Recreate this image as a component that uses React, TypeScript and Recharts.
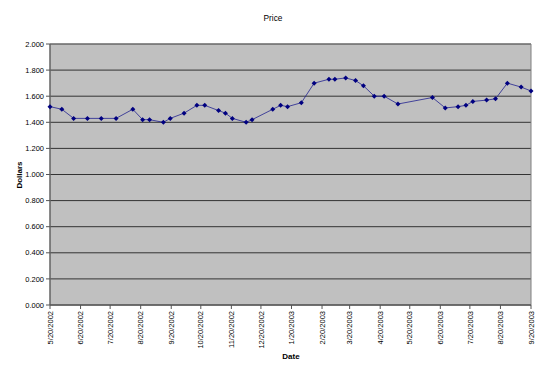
import { CartesianGrid, Line, LineChart, ReferenceArea, XAxis, YAxis } from "recharts";

const dates = [
  "2002-05-20", "2002-06-01", "2002-06-13", "2002-06-27", "2002-07-11", "2002-07-26",
  "2002-08-12", "2002-08-22", "2002-08-29", "2002-09-12", "2002-09-19", "2002-10-03",
  "2002-10-16", "2002-10-24", "2002-11-07", "2002-11-14", "2002-11-21", "2002-12-05",
  "2002-12-11", "2003-01-01", "2003-01-09", "2003-01-16", "2003-01-30", "2003-02-12",
  "2003-02-27", "2003-03-05", "2003-03-16", "2003-03-26", "2003-04-03", "2003-04-14",
  "2003-04-24", "2003-05-08", "2003-06-12", "2003-06-25", "2003-07-08", "2003-07-16",
  "2003-07-23", "2003-08-06", "2003-08-15", "2003-08-27", "2003-09-10", "2003-09-20",
];
const prices = [
  1.52, 1.5, 1.43, 1.43, 1.43, 1.43,
  1.5, 1.42, 1.42, 1.4, 1.43, 1.47,
  1.53, 1.53, 1.49, 1.47, 1.43, 1.4,
  1.42, 1.5, 1.53, 1.52, 1.55, 1.7,
  1.73, 1.73, 1.74, 1.72, 1.68, 1.6,
  1.6, 1.54, 1.59, 1.51, 1.52, 1.53,
  1.56, 1.57, 1.58, 1.7, 1.67, 1.64,
];
const xTickDates = [
  "2002-05-20", "2002-06-20", "2002-07-20", "2002-08-20", "2002-09-20", "2002-10-20",
  "2002-11-20", "2002-12-20", "2003-01-20", "2003-02-20", "2003-03-20", "2003-04-20",
  "2003-05-20", "2003-06-20", "2003-07-20", "2003-08-20", "2003-09-20",
];
const yTicks = [0, 0.2, 0.4, 0.6, 0.8, 1.0, 1.2, 1.4, 1.6, 1.8, 2.0];

const FONT = "'Liberation Sans', Arial, sans-serif";

const toMs = (s: string) => Date.parse(s + "T00:00:00Z");
const fmtDate = (ms: number) => {
  const d = new Date(ms);
  return `${d.getUTCMonth() + 1}/${d.getUTCDate()}/${d.getUTCFullYear()}`;
};

const data = dates.map((d, i) => ({ t: toMs(d), price: prices[i] }));
const xTicks = xTickDates.map(toMs);

function DateTick({ x, y, payload }: any) {
  return (
    <text
      x={x}
      y={y}
      transform={`rotate(-90, ${x}, ${y})`}
      textAnchor="end"
      dy="0.35em"
      fontSize={7.5}
      fontFamily={FONT}
      fill="#000"
    >
      {fmtDate(payload.value)}
    </text>
  );
}

function Diamond({ cx, cy }: any) {
  if (cx == null || cy == null) return null;
  const r = 2.5;
  return (
    <path
      d={`M${cx},${cy - r}L${cx + r},${cy}L${cx},${cy + r}L${cx - r},${cy}Z`}
      fill="#000080"
      stroke="none"
    />
  );
}

const label = (extra: React.CSSProperties): React.CSSProperties => ({
  position: "absolute",
  fontFamily: FONT,
  fontSize: 8,
  color: "#000",
  whiteSpace: "nowrap",
  ...extra,
});

export default function App() {
  return (
    <div style={{ position: "absolute", left: 0, top: 0, width: 547, height: 374, background: "#fff" }}>
      <LineChart width={547} height={374} data={data} margin={{ top: 44, right: 16, bottom: 0, left: 0 }}>
        <CartesianGrid vertical={false} fill="#C0C0C0" stroke="#333" strokeOpacity={1} />
        <XAxis
          dataKey="t"
          type="number"
          scale="time"
          domain={[xTicks[0], xTicks[xTicks.length - 1]]}
          ticks={xTicks}
          tick={<DateTick />}
          tickSize={4}
          height={69}
          stroke="#555"
          interval={0}
        />
        <YAxis
          domain={[0, 2]}
          ticks={yTicks}
          tickFormatter={(v: number) => v.toFixed(3)}
          tick={{ fontSize: 7.5, fontFamily: FONT, fill: "#000" }}
          tickSize={4}
          width={50}
          stroke="#555"
          interval={0}
        />
        <ReferenceArea
          x1={xTicks[0]}
          x2={xTicks[xTicks.length - 1]}
          y1={0}
          y2={2}
          fill="none"
          stroke="#808080"
          strokeWidth={1}
          ifOverflow="visible"
        />
        <Line
          dataKey="price"
          stroke="#22228f"
          strokeWidth={0.8}
          dot={<Diamond />}
          activeDot={false}
          isAnimationActive={false}
        />
      </LineChart>
      <div style={label({ left: 273, top: 13, transform: "translateX(-50%)", fontSize: 8.3 })}>Price</div>
      <div style={label({ left: 291, top: 352, transform: "translateX(-50%)", fontWeight: "bold" })}>Date</div>
      <div
        style={label({
          left: 19,
          top: 175,
          transform: "translate(-50%, -50%) rotate(-90deg)",
          fontWeight: "bold",
        })}
      >
        Dollars
      </div>
    </div>
  );
}
